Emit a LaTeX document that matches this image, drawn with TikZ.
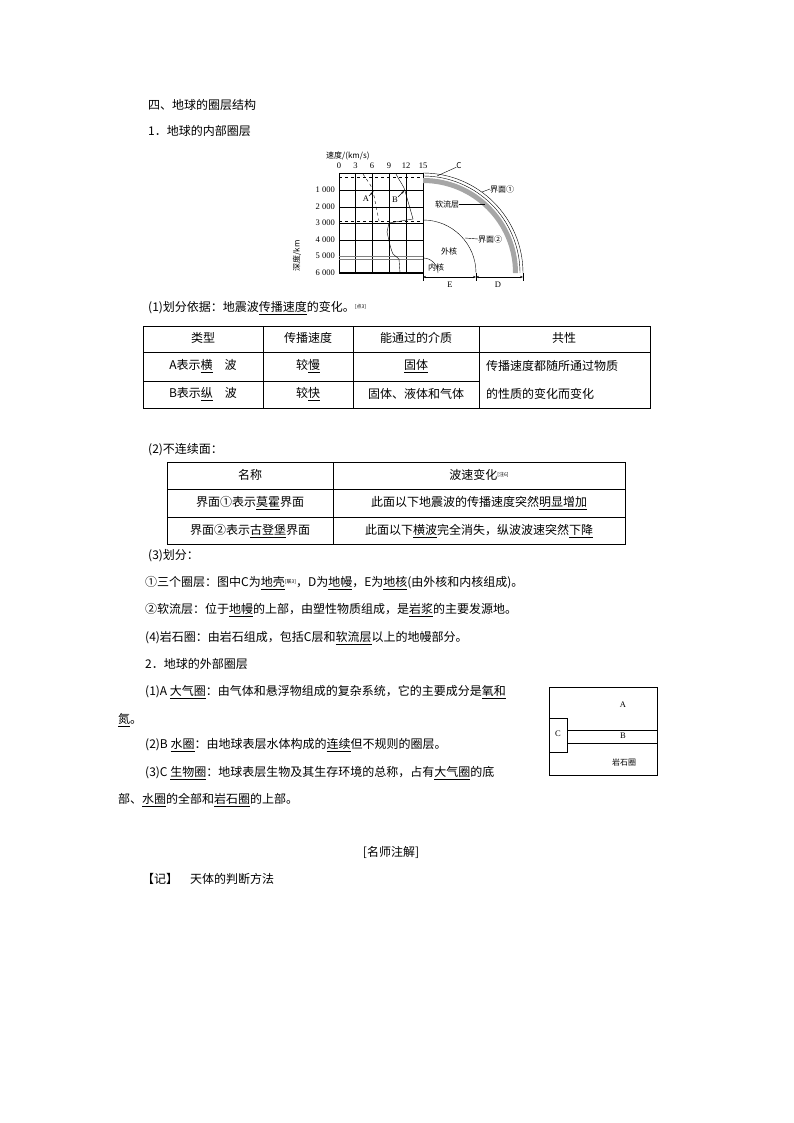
\documentclass[tikz,border=0pt]{standalone}
\usepackage{fontspec}
\setmainfont{Noto Sans CJK SC}
\newfontfamily\serif{Liberation Serif}
\usetikzlibrary{arrows.meta}
\newcommand{\refm}[1]{\raisebox{3pt}{\fontsize{5}{5}\selectfont[#1]}}
\begin{document}
\begin{tikzpicture}[x=1pt,y=-1pt,
  txt/.style={anchor=west,inner sep=0pt,font=\fontsize{12}{12}\selectfont},
  cell/.style={inner sep=0pt,font=\fontsize{12}{12}\selectfont},
  sm/.style={inner sep=0pt,font=\fontsize{8}{8}\selectfont},
  num/.style={inner sep=0pt,font=\serif\fontsize{8.5}{8.5}\selectfont},
  grid line/.style={line width=0.5pt},
  tb/.style={line width=0.6pt}]
\useasboundingbox (0,0) rectangle (794,1123);
% headings
\node[txt] (h1) at (148,105) {四、地球的圈层结构};
\node[txt] (h2) at (148,131) {1．地球的内部圈层};
% ---- chart ----
\node[sm,anchor=west] (vl) at (326,156) {速度/(km/s)};
\foreach \v/\x in {0/339,3/355.5,6/372,9/389,12/406,15/423}{
  \node[num] (n\v) at (\x,166) {\v};
  \draw[grid line] (\x,173) -- (\x,273);}
\foreach \d/\y in {1 000/190,2 000/207,3 000/223,4 000/240,5 000/256,6 000/273}{
  \node[num,anchor=east] at (335,\y) {\d};}
\foreach \y in {190,207,223,240}{\draw[grid line] (339,\y) -- (423,\y);}
\draw[grid line,gray] (339,256) -- (423,256);
\draw[grid line,gray] (339,259) -- (423,259);
\draw[line width=1.2pt] (339,273) -- (423,273);
\draw[grid line] (339,173) -- (423,173);
\draw[dashed,grid line] (339,177) -- (423,177);
\draw[dashed,grid line] (339,221) -- (423,221);
\node[sm,rotate=90] (dep) at (297,256) {深度/km};
% waves
\draw[dashed,thin] (363,174) .. controls (368,182) and (372,186) .. (373,191) -- (379,221);
\draw[thin] (396,174) .. controls (400,182) and (404,186) .. (405,191) -- (413,219)
  -- (389,223) -- (387,232) .. controls (390,245) and (391,250) .. (393,254)
  -- (399,259) -- (400,273);
\node[num] (A) at (366,199) {A};
\node[num] (B) at (395,200) {B};
\draw[-{Stealth[length=3pt]},thin] (A) -- (373,192);
\draw[-{Stealth[length=3pt]},thin] (B) -- (404,191);
% quarter sphere
\draw[thin] (423,173) arc (-90:0:100);
\draw[thin] (423,176) arc (-90:0:97);
\fill[gray!70] (423,178) arc (-90:0:95) -- (513,273) arc (0:-90:90) -- cycle;
\draw[thin] (423,220) arc (-90:0:53);
\draw[thin] (423,258) arc (-90:0:15);
\node[sm] (C) at (459,166) {C};
\draw[thin] (437,176) -- (C);
\node[sm,anchor=west] (j1) at (490,189) {界面①};
\draw[thin] (482,192) -- (j1.west);
\node[sm] (rl) at (447,204) {软流层};
\draw[thin] (rl.east) -- (485,204);
\node[sm,anchor=west] (j2) at (478,239) {界面②};
\draw[thin] (465,238) -- (j2.west);
\node[sm] (wh) at (449,251) {外核};
\node[sm] (nh) at (436,267) {内核};
\draw[thin] (423,273) -- (423,281);
\draw[thin] (476,273) -- (476,281);
\draw[thin] (523,273) -- (523,281);
\coordinate (e1) at (423,277); \coordinate (e2) at (476,277); \coordinate (e3) at (523,277);
\draw[{Stealth[length=3pt]}-{Stealth[length=3pt]},thin] (e1) -- (e2);
\draw[{Stealth[length=3pt]}-{Stealth[length=3pt]},thin] (e2) -- (e3);
\node[num] (E) at (450,285) {E};
\node[num] (D) at (498,285) {D};
% ---- table 1 ----
\node[txt] (p1) at (148,308) {(1)划分依据：地震波\underline{传播速度}的变化。\refm{点3}};
\draw[tb] (143,326) rectangle (650,408);
\draw[tb] (143,352) -- (650,352);
\draw[tb] (143,381) -- (479,381);
\foreach \x in {263,353,479}{\draw[tb] (\x,326) -- (\x,408);}
\node[cell] (c11) at (203,338) {类型};
\node[cell] (c12) at (308,338) {传播速度};
\node[cell] (c13) at (416,338) {能通过的介质};
\node[cell] (c14) at (564,338) {共性};
\node[cell] (c21) at (203,366) {A表示\underline{横}\quad 波};
\node[cell] (c22) at (308,366) {较\underline{慢}};
\node[cell] (c23) at (416,366) {\underline{固体}};
\node[cell,anchor=west] (c24a) at (486,366) {传播速度都随所通过物质};
\node[cell,anchor=west] (c24b) at (486,394) {的性质的变化而变化};
\node[cell] (c31) at (203,394) {B表示\underline{纵}\quad 波};
\node[cell] (c32) at (308,394) {较\underline{快}};
\node[cell] (c33) at (416,394) {固体、液体和气体};
% ---- table 2 ----
\node[txt] (p2) at (148,450) {(2)不连续面：};
\draw[tb] (167,462) rectangle (625,544);
\draw[tb] (167,489) -- (625,489);
\draw[tb] (167,517) -- (625,517);
\draw[tb] (333,462) -- (333,544);
\node[cell] (d11) at (250,475) {名称};
\node[cell] (d12) at (479,475) {波速变化\refm{注6}};
\node[cell] (d21) at (250,503) {界面①表示\underline{莫霍}界面};
\node[cell] (d22) at (479,503) {此面以下地震波的传播速度突然\underline{明显增加}};
\node[cell] (d31) at (250,531) {界面②表示\underline{古登堡}界面};
\node[cell] (d32) at (479,531) {此面以下\underline{横波}完全消失，纵波波速突然\underline{下降}};
% ---- text ----
\node[txt] (p3) at (148,556) {(3)划分：};
\node[txt] (p4) at (145,583) {①三个圈层：图中C为\underline{地壳}\refm{联3}，D为\underline{地幔}，E为\underline{地核}(由外核和内核组成)。};
\node[txt] (p5) at (145,610) {②软流层：位于\underline{地幔}的上部，由塑性物质组成，是\underline{岩浆}的主要发源地。};
\node[txt] (p6) at (145,638) {(4)岩石圈：由岩石组成，包括C层和\underline{软流层}以上的地幔部分。};
\node[txt] (p7) at (145,664) {2．地球的外部圈层};
\node[txt] (p8) at (145,692) {(1)A \underline{大气圈}：由气体和悬浮物组成的复杂系统，它的主要成分是\underline{氧和}};
\node[txt] (p9) at (118,720) {\underline{氮}。};
\node[txt] (p10) at (145,745) {(2)B \underline{水圈}：由地球表层水体构成的\underline{连续}但不规则的圈层。};
\node[txt] (p11) at (145,773) {(3)C \underline{生物圈}：地球表层生物及其生存环境的总称，占有\underline{大气圈}的底};
\node[txt] (p12) at (118,800) {部、\underline{水圈}的全部和\underline{岩石圈}的上部。};
\node[cell] (p13) at (391,852) {[名师注解]};
\node[txt] (p14) at (142,879) {【记】\quad 天体的判断方法};
% ---- small box ----
\draw[thin] (549,687) rectangle (657,775);
\draw[thin] (567,730) -- (657,730);
\draw[thin] (567,743) -- (657,743);
\draw[thin,fill=white] (549,718) rectangle (567,752);
\node[num] (bA) at (623,705) {A};
\node[num] (bB) at (623,736) {B};
\node[num] (bC) at (558,734) {C};
\node[sm] (bL) at (624,762) {岩石圈};
\end{tikzpicture}
\end{document}
